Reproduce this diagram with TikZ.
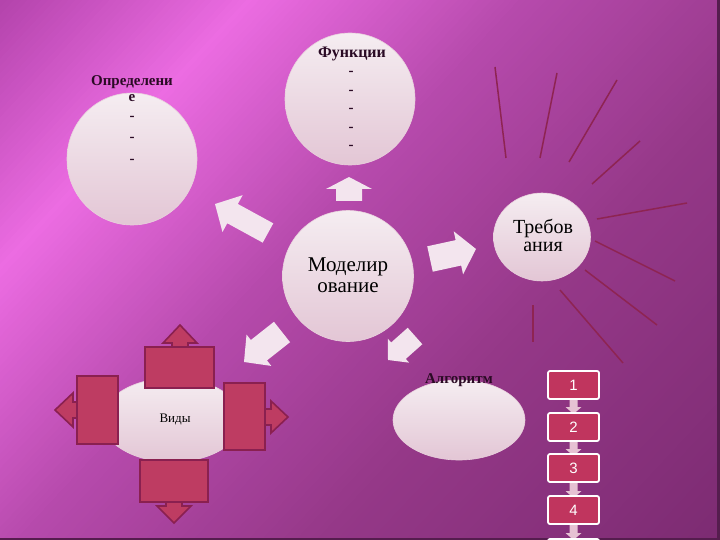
\documentclass[tikz,border=0pt]{standalone}
\usepackage{fontspec}
\setmainfont{Liberation Serif}
\newfontfamily\numfont{Liberation Sans}
\usetikzlibrary{shapes.geometric}
\definecolor{bg0}{HTML}{B444AC}
\definecolor{bg1}{HTML}{EC6CE2}
\definecolor{bg2}{HTML}{B64AAC}
\definecolor{bg3}{HTML}{953888}
\definecolor{bg4}{HTML}{7A2A70}
\definecolor{bubtop}{HTML}{F5EDF1}
\definecolor{bubbot}{HTML}{E3C6D5}
\definecolor{arrwhite}{HTML}{F3E5EE}
\definecolor{redfill}{HTML}{BE3C62}
\definecolor{redline}{HTML}{8A2050}
\definecolor{boxfill}{HTML}{C0355E}
\definecolor{smallarr}{HTML}{E6C2D3}
\definecolor{raycol}{HTML}{8E2452}
\definecolor{darktext}{HTML}{2A0A24}
\newcommand\blockarr[8]{%
  \pgfmathsetmacro\baang{atan2((#2)-(#4),(#3)-(#1))}%
  \pgfmathsetmacro\balen{veclen((#3)-(#1),(#4)-(#2))}%
  \pgfmathsetmacro\babase{\balen-(#7)}%
  \path[#8,shift={(#1,#2)},rotate=\baang] (0,-#5) -- (\babase,-#5) -- (\babase,-#6) -- (\balen,0) -- (\babase,#6) -- (\babase,#5) -- (0,#5) -- cycle;}
\tikzset{
  bubble/.style={ellipse,inner sep=0pt,top color=bubtop,bottom color=bubbot,draw=bubbot!80!white,line width=0.6pt},
  whitearr/.style={fill=arrwhite},
  redarr/.style={fill=redfill,draw=redline,line width=1.6pt,line join=miter},
  redbox/.style={fill=redfill,draw=redline,line width=1.6pt},
  numbox/.style={rectangle,fill=boxfill,draw=white,line width=1.8pt,rounded corners=2pt,minimum width=51pt,minimum height=28pt,inner sep=0pt,text=white,font=\numfont\fontsize{15}{16}\selectfont},
  smallarrow/.style={fill=smallarr},
  ray/.style={draw=raycol,line width=1.5pt},
  lbl/.style={inner sep=0pt,align=center,text=black},
  boldlbl/.style={inner sep=0pt,align=center,text=darktext}
}
\begin{document}
\begin{tikzpicture}[x=1pt,y=-1pt]
\useasboundingbox (0,0) rectangle (720,540);
% background
\begin{scope}
\clip (0,0) rectangle (720,540);
\begin{scope}[rotate=-43]
\foreach \ta/\tb/\ca/\cb in {0/180/bg0/bg1,180/380/bg1/bg2,380/600/bg2/bg3,600/920/bg3/bg4}{
  \pgfmathtruncatemacro\nn{(\tb-\ta)/5}
  \foreach \i in {0,...,\nn}{
    \pgfmathsetmacro\sta{\ta+(\tb-\ta)/\nn*\i}
    \pgfmathsetmacro\stw{\sta+(\tb-\ta)/\nn+1}
    \pgfmathtruncatemacro\pp{100/\nn*\i}
    \fill[\cb!\pp!\ca] (\sta,-800) -- (\stw,-800) -- (\stw,800) -- (\sta,800) -- cycle;
  }
}
\end{scope}
\fill[bg4!70!black] (716.5,0) rectangle (720,540);
\fill[bg4!70!black] (0,538) rectangle (720,540);
\end{scope}
% rays
\draw[ray] (495,67) -- (506,158);
\draw[ray] (557,73) -- (540,158);
\draw[ray] (617,80) -- (569,162);
\draw[ray] (640,141) -- (592,184);
\draw[ray] (687,203) -- (597,219);
\draw[ray] (595,241) -- (675,281);
\draw[ray] (585,270) -- (657,325);
\draw[ray] (560,290) -- (623,363);
\draw[ray] (533,305) -- (533,342);
% bubbles
\node[bubble,minimum width=130pt,minimum height=132pt] (def) at (132,159) {};
\node[bubble,minimum width=130pt,minimum height=132pt] (fun) at (350,99) {};
\node[bubble,minimum width=131pt,minimum height=131pt] (mod) at (348,276) {};
\node[bubble,minimum width=97pt,minimum height=88pt] (req) at (542,237) {};
\node[bubble,minimum width=132pt,minimum height=80pt] (alg) at (459,420) {};
\node[bubble,minimum width=140pt,minimum height=84pt] (vid) at (172,420) {};
% white block arrows
\blockarr{349}{201}{349}{177}{13}{23}{12}{whitearr}
\blockarr{268}{233}{215}{204}{11}{21}{20}{whitearr}
\blockarr{430}{259}{476}{249}{13}{22}{18}{whitearr}
\blockarr{282}{332}{244}{362}{13}{20}{19}{whitearr}
\blockarr{415}{336}{388}{360}{11}{16}{14}{whitearr}
% red shapes around Виды
\blockarr{180}{350}{180}{325}{8}{17}{18}{redarr}
\draw[redbox] (145,347) rectangle (214,388);
\blockarr{80}{410}{55}{410}{8}{17}{18}{redarr}
\draw[redbox] (77,376) rectangle (118,444);
\blockarr{262}{417}{288}{417}{8}{16}{17}{redarr}
\draw[redbox] (224,383) rectangle (265,450);
\blockarr{174}{498}{174}{523}{8}{17}{17}{redarr}
\draw[redbox] (140,460) rectangle (208,502);
% numbered boxes
\blockarr{573.5}{397}{573.5}{414}{4}{8}{7}{smallarrow}
\blockarr{573.5}{439}{573.5}{456}{4}{8}{7}{smallarrow}
\blockarr{573.5}{481}{573.5}{498}{4}{8}{7}{smallarrow}
\blockarr{573.5}{523}{573.5}{540}{4}{8}{7}{smallarrow}
\node[numbox] (n1) at (573.5,385) {1};
\node[numbox] (n2) at (573.5,427) {2};
\node[numbox] (n3) at (573.5,468) {3};
\node[numbox] (n4) at (573.5,510) {4};
\node[numbox] (n5) at (573.5,553) {};
% texts
\node[boldlbl,font=\bfseries\fontsize{15}{15}\selectfont] (tdef) at (132,82) {Определени};
\node[boldlbl,font=\bfseries\fontsize{15}{15}\selectfont] (tdefe) at (132,98) {е};
\node[boldlbl,font=\bfseries\fontsize{15}{15}\selectfont] (td1) at (132,118) {-};
\node[boldlbl,font=\bfseries\fontsize{15}{15}\selectfont] (td2) at (132,139) {-};
\node[boldlbl,font=\bfseries\fontsize{15}{15}\selectfont] (td3) at (132,161) {-};
\node[boldlbl,font=\bfseries\fontsize{16}{16}\selectfont] (tfun) at (352,54) {Функции};
\foreach \yy [count=\k] in {73,92,110,129,147}{
  \node[boldlbl,font=\bfseries\fontsize{15}{15}\selectfont] (tf\k) at (351,\yy) {-};
}
\node[lbl,font=\fontsize{21}{21}\selectfont] (tmod) at (348,267) {Моделир};
\node[lbl,font=\fontsize{21}{21}\selectfont] (tmod2) at (348,288) {ование};
\node[lbl,font=\fontsize{20}{20}\selectfont] (treq) at (543,228) {Требов};
\node[lbl,font=\fontsize{20}{20}\selectfont] (treq2) at (543,247) {ания};
\node[boldlbl,font=\bfseries\fontsize{15}{15}\selectfont] (talg) at (459,380) {Алгоритм};
\node[lbl,font=\fontsize{13}{13}\selectfont] (tvid) at (175,419) {Виды};
\end{tikzpicture}
\end{document}
